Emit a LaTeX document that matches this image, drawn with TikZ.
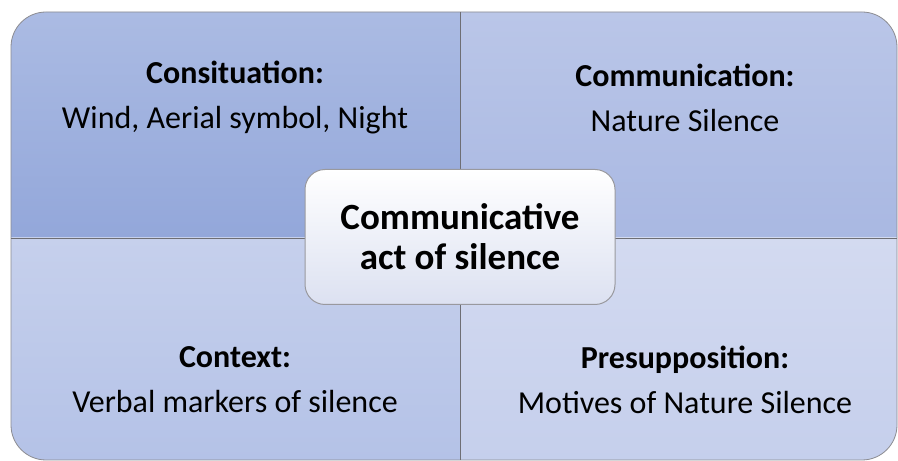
\documentclass[tikz,border=0pt]{standalone}
\usepackage{fontspec}
\setmainfont{Carlito}
\usetikzlibrary{calc}

\definecolor{tltop}{HTML}{ABBBE3}
\definecolor{tlbot}{HTML}{93A7DA}
\definecolor{trtop}{HTML}{BAC6E8}
\definecolor{trbot}{HTML}{A9B8E2}
\definecolor{bltop}{HTML}{C6D0EC}
\definecolor{blbot}{HTML}{B4C2E7}
\definecolor{brtop}{HTML}{D3DAF0}
\definecolor{brbot}{HTML}{C5CFEC}
\definecolor{hubbot}{HTML}{DCE1F1}
\definecolor{edge}{HTML}{6E6E74}

\tikzset{
    quadtext/.style={align=center, text=black, font=\fontsize{32}{45}\selectfont},
    hubbox/.style={draw=edge!70, line width=1pt, rounded corners=20pt,
        top color=white, bottom color=hubbot, minimum width=310pt, minimum height=135pt,
        align=center, font=\fontsize{37}{40}\selectfont\bfseries}
}

\begin{document}
\begin{tikzpicture}[x=1pt,y=1pt]
    \useasboundingbox (0,0) rectangle (898,461);
    % four quadrants inside one rounded frame
    \begin{scope}
        \clip[rounded corners=35pt] (11,1) rectangle (897,449);
        \shade[top color=tltop, bottom color=tlbot] (11,223) rectangle (460,449);
        \shade[top color=trtop, bottom color=trbot] (460,223) rectangle (897,449);
        \shade[top color=bltop, bottom color=blbot] (11,1) rectangle (460,223);
        \shade[top color=brtop, bottom color=brbot] (460,1) rectangle (897,223);
    \end{scope}
    \draw[edge!80, line width=0.8pt, rounded corners=35pt] (11,1) rectangle (897,449);
    \draw[edge, line width=0.8pt] (460,1) -- (460,449);
    \draw[edge, line width=0.8pt] (11,223) -- (897,223);

    \node[quadtext] (consituation) at (235,363) {\textbf{Consituation:}\\Wind, Aerial symbol, Night};
    \node[quadtext] (communication) at (685,363) {\textbf{Communication:}\\Nature Silence};
    \node[quadtext] (context) at (235,81) {\textbf{Context:}\\Verbal markers of silence};
    \node[quadtext] (presupposition) at (685,81) {\textbf{Presupposition:}\\Motives of Nature Silence};

    \node[hubbox] (hub) at (460,224) {Communicative\\act of silence};
\end{tikzpicture}
\end{document}
